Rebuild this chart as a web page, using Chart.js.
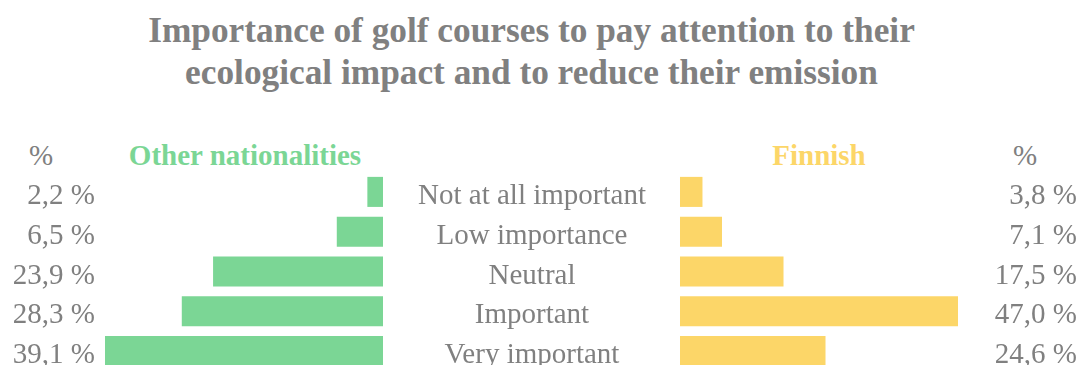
<!DOCTYPE html>
<html>
<head>
<meta charset="utf-8">
<script src="https://cdn.jsdelivr.net/npm/chart.js@4.4.1/dist/chart.umd.min.js"></script>
<style>
  html, body { margin: 0; padding: 0; background: #ffffff; }
  #wrap { position: relative; width: 1084px; height: 365px; overflow: hidden; font-family: "Liberation Serif", "Times New Roman", serif; color: #808080; }
  .title { position: absolute; left: 0; top: 10px; width: 1063px; text-align: center; font-weight: bold; font-size: 35.3px; line-height: 42px; }
  .head { position: absolute; top: 141px; font-size: 29px; line-height: 29px; white-space: nowrap; transform: translateX(-50%); }
  .bold { font-weight: bold; }
  canvas { position: absolute; left: 0; top: 172px; }
</style>
</head>
<body>
<div id="wrap">
  <div class="title">Importance of golf courses to pay attention to their<br>ecological impact and to reduce their emission</div>
  <div class="head" style="left:41px">%</div>
  <div class="head bold" id="hLeft" style="left:245px"></div>
  <div class="head bold" id="hRight" style="left:819px"></div>
  <div class="head" style="left:1025px">%</div>
  <canvas id="left" width="1084" height="199"></canvas>
  <canvas id="right" width="1084" height="199"></canvas>
</div>
<script>
// Survey answers, share of respondents (%)
const categories = ['Not at all important', 'Low importance', 'Neutral', 'Important', 'Very important'];
const seriesNames = ['Other nationalities', 'Finnish'];
const otherValues = [2.2, 6.5, 23.9, 28.3, 39.1];
const finnishValues = [3.8, 7.1, 17.5, 47.0, 24.6];

const GREEN = '#7bd695';
const YELLOW = '#fcd668';
const GREY = '#808080';
const LABEL_FONT = '29px "Liberation Serif", "Times New Roman", serif';

document.getElementById('hLeft').textContent = seriesNames[0];
document.getElementById('hLeft').style.color = GREEN;
document.getElementById('hRight').textContent = seriesNames[1];
document.getElementById('hRight').style.color = YELLOW;

const fmt = v => v.toFixed(1).replace('.', ',') + ' %';

// Draws per-row text (value labels, and optionally category names) at the rows of the y scale
function rowLabels(values, valueX, withCategories) {
  return {
    id: 'rowLabels',
    afterDraw(chart) {
      const ctx = chart.ctx;
      const y = chart.scales.y;
      ctx.save();
      ctx.font = LABEL_FONT;
      ctx.fillStyle = GREY;
      ctx.textBaseline = 'alphabetic';
      categories.forEach((c, i) => {
        const py = y.getPixelForValue(i) + 12;
        ctx.textAlign = 'right';
        ctx.fillText(fmt(values[i]), valueX, py);
        if (withCategories) {
          ctx.textAlign = 'center';
          ctx.fillText(c, 532, py);
        }
      });
      ctx.restore();
    }
  };
}

function makeChart(id, label, values, color, reverse, padding, plugin) {
  return new Chart(document.getElementById(id), {
    type: 'bar',
    data: {
      labels: categories,
      datasets: [{
        label: label,
        data: values,
        backgroundColor: color,
        borderWidth: 0,
        barPercentage: 0.755,
        categoryPercentage: 1
      }]
    },
    options: {
      indexAxis: 'y',
      responsive: false,
      animation: false,
      devicePixelRatio: 1,
      layout: { padding: padding },
      scales: {
        x: { display: false, reverse: reverse, min: 0, max: Math.max(...values) },
        y: { display: false }
      },
      plugins: { legend: { display: false }, tooltip: { enabled: false }, title: { display: false } }
    },
    plugins: [plugin]
  });
}

makeChart('left', seriesNames[0], otherValues, GREEN, true,
  { left: 105, right: 701, top: 0, bottom: 0 }, rowLabels(otherValues, 95, true));
makeChart('right', seriesNames[1], finnishValues, YELLOW, false,
  { left: 680, right: 126, top: 0, bottom: 0 }, rowLabels(finnishValues, 1077, false));
</script>
</body>
</html>
